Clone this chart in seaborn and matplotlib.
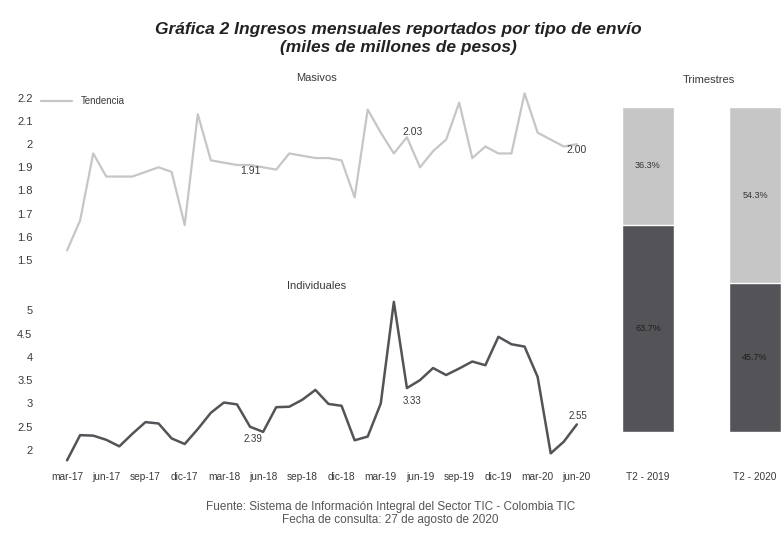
import numpy as np
import pandas as pd
import matplotlib
matplotlib.use("Agg")
import matplotlib.pyplot as plt
import seaborn as sns

# datos (miles de millones de pesos)
meses = ["mar-17", "jun-17", "sep-17", "dic-17", "mar-18", "jun-18", "sep-18",
         "dic-18", "mar-19", "jun-19", "sep-19", "dic-19", "mar-20", "jun-20"]

masivos = [1.54, 1.67, 1.96, 1.86, 1.86, 1.86, 1.88, 1.90, 1.88, 1.65,
           2.13, 1.93, 1.92, 1.91, 1.91, 1.90, 1.89, 1.96, 1.95, 1.94,
           1.94, 1.93, 1.77, 2.15, 2.05, 1.96, 2.03, 1.90, 1.97, 2.02,
           2.18, 1.94, 1.99, 1.96, 1.96, 2.22, 2.05, 2.02, 1.99, 2.00]

individuales = [1.78, 2.32, 2.31, 2.22, 2.08, 2.35, 2.60, 2.57, 2.25, 2.13,
                2.45, 2.80, 3.02, 2.98, 2.50, 2.39, 2.92, 2.93, 3.08, 3.29,
                2.99, 2.95, 2.21, 2.29, 3.00, 5.18, 3.33, 3.50, 3.76, 3.61,
                3.75, 3.90, 3.82, 4.43, 4.27, 4.22, 3.57, 1.93, 2.18, 2.55]

trimestres = ["T2 - 2019", "T2 - 2020"]
part_masivos = [36.3, 54.3]
part_individuales = [63.7, 45.7]

sns.set_theme(style="white")
plt.rcParams["font.family"] = ["Liberation Sans", "DejaVu Sans"]

gris_claro = "#c6c6c6"
gris_oscuro = "#545458"
texto = "#3a3a3a"

fig = plt.figure(figsize=(7.81, 5.33), dpi=100)

ax1 = fig.add_axes([0.0487, 0.5084, 0.713, 0.319])
ax2 = fig.add_axes([0.0487, 0.1276, 0.713, 0.3096])
ax3 = fig.add_axes([0.768, 0.1276, 0.232, 0.6717])

idx = np.arange(len(masivos))
df = pd.DataFrame({"i": idx, "Masivos": masivos, "Individuales": individuales})

#MASIVOS
sns.lineplot(data=df, x="i", y="Masivos", ax=ax1, color=gris_claro, lw=1.6,
             label="Tendencia")
ax1.set_xlim(-2.22, 40.38)
ax1.set_ylim(1.49, 2.226)
ax1.set_yticks([1.5, 1.6, 1.7, 1.8, 1.9, 2.0, 2.1, 2.2])
ax1.set_yticklabels(["1.5", "1.6", "1.7", "1.8", "1.9", "2", "2.1", "2.2"])
ax1.set_xticks([])
ax1.set(xlabel=None, ylabel=None)
ax1.set_title("Masivos", fontsize=8, color=texto, pad=8)
ax1.legend(loc="upper left", bbox_to_anchor=(-0.01, 1.025), frameon=False,
           fontsize=7, handlelength=3.2, handletextpad=0.9, labelcolor=texto)

for i, dx, dy in [(14, 0, -4), (26, 4, 4), (39, 0, -4)]:
    ax1.annotate(f"{masivos[i]:.2f}", (i, masivos[i]), xytext=(dx, dy),
                 textcoords="offset points", ha="center", va="center",
                 fontsize=7.5, color=texto)

#INDIVIDUALES
sns.lineplot(data=df, x="i", y="Individuales", ax=ax2, color=gris_oscuro, lw=1.8)
ax2.set_xlim(-2.22, 40.38)
ax2.set_ylim(1.68, 5.22)
ax2.set_yticks([2, 2.5, 3, 3.5, 4, 4.5, 5])
ax2.set_yticklabels(["2", "2.5", "3", "3.5", "4", "4.5", "5"])
ax2.set_xticks(np.arange(0, 40, 3))
ax2.set_xticklabels(meses)
ax2.set(xlabel=None, ylabel=None)
ax2.set_title("Individuales", fontsize=8, color=texto, pad=8)

for i, dx, dy in [(15, -7, -5), (26, 4, -9), (39, 1, 6)]:
    ax2.annotate(f"{individuales[i]:.2f}", (i, individuales[i]), xytext=(dx, dy),
                 textcoords="offset points", ha="center", va="center",
                 fontsize=7, color=texto)

for a in (ax1, ax2):
    a.tick_params(axis="y", length=0, labelsize=8, labelcolor=texto, pad=4)
    a.tick_params(axis="x", length=0, labelsize=7.3, labelcolor=texto, pad=5)
    sns.despine(ax=a, left=True, bottom=True)

#TRIMESTRES
dfb = pd.DataFrame({"Trimestre": trimestres,
                    "Total": np.array(part_masivos) + np.array(part_individuales),
                    "Individuales": part_individuales})
sns.barplot(data=dfb, x="Trimestre", y="Total", ax=ax3, color=gris_claro,
            width=0.48, saturation=1)
sns.barplot(data=dfb, x="Trimestre", y="Individuales", ax=ax3, color=gris_oscuro,
            width=0.48, saturation=1)
ax3.set_xlim(-0.449, 1.243)
ax3.set_ylim(-10.2, 100)
ax3.set_yticks([])
ax3.set(xlabel=None, ylabel=None)
ax3.tick_params(axis="x", length=0, labelsize=7.3, labelcolor=texto, pad=5)
ax3.text(0.6, 1.075, "Trimestres", transform=ax3.transAxes, fontsize=8,
         color=texto, ha="center", va="center")
sns.despine(ax=ax3, left=True, bottom=True)

for k in range(len(trimestres)):
    ind = part_individuales[k]
    mas = part_masivos[k]
    ax3.text(k, ind / 2, f"{ind:.1f}%", ha="center", va="center",
             fontsize=6.5, color="#1e1e1e")
    ax3.text(k, ind + mas / 2, f"{mas:.1f}%", ha="center", va="center",
             fontsize=6.5, color="#333333")

fig.text(0.51, 0.944, "Gráfica 2 Ingresos mensuales reportados por tipo de envío",
         ha="center", va="center", fontsize=12.5, fontweight="bold",
         fontstyle="italic", color="#222222")
fig.text(0.51, 0.911, "(miles de millones de pesos)", ha="center", va="center",
         fontsize=12.5, fontweight="bold", fontstyle="italic", color="#222222")

fig.text(0.5, 0.049, "Fuente: Sistema de Información Integral del Sector TIC - Colombia TIC",
         ha="center", va="center", fontsize=8.5, color="#555555")
fig.text(0.5, 0.024, "Fecha de consulta: 27 de agosto de 2020",
         ha="center", va="center", fontsize=8.5, color="#555555")

plt.savefig("out.png", dpi=100)
